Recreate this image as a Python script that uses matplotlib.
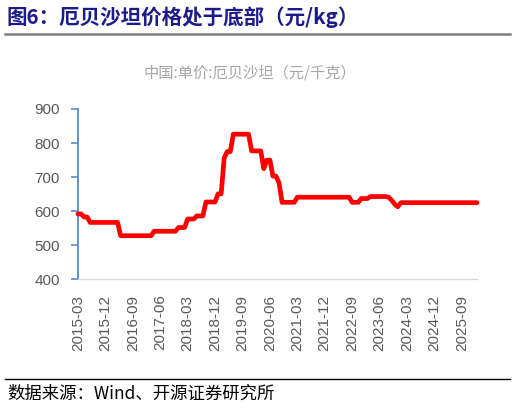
import numpy as np
import pandas as pd
import matplotlib
matplotlib.use("Agg")
import matplotlib.pyplot as plt
from matplotlib.lines import Line2D

plt.rcParams['font.family'] = ['Noto Sans CJK SC', 'DejaVu Sans']

# monthly unit price, 2015-03 .. 2026-02 (yuan/kg)
start_month = "2015-03"
prices = [
    592, 592, 583, 583, 567, 567, 567, 567, 567, 567,
    567, 567, 567, 567, 528, 528, 528, 528, 528, 528,
    528, 528, 528, 528, 528, 541, 541, 541, 541, 541,
    541, 541, 541, 552, 552, 552, 577, 577, 577, 586,
    586, 586, 627, 627, 627, 627, 651, 651, 756, 775,
    775, 826, 826, 826, 826, 826, 826, 777, 777, 777,
    777, 725, 750, 750, 703, 703, 683, 626, 626, 626,
    626, 626, 641, 641, 641, 641, 641, 641, 641, 641,
    641, 641, 641, 641, 641, 641, 641, 641, 641, 641,
    626, 626, 626, 637, 637, 637, 643, 643, 643, 643,
    643, 643, 641, 632, 620, 613, 625, 625, 625, 625,
    625, 625, 625, 625, 625, 625, 625, 625, 625, 625,
    625, 625, 625, 625, 625, 625, 625, 625, 625, 625,
    625, 625,
]
dates = pd.date_range(start_month, periods=len(prices), freq="MS").strftime("%Y-%m")
yticks = [400, 500, 600, 700, 800, 900]

title = "图6：厄贝沙坦价格处于底部（元/kg）"
subtitle = "中国:单价:厄贝沙坦（元/千克）"
source = "数据来源：Wind、开源证券研究所"

fig = plt.figure(figsize=(5.15, 4.08), dpi=100)
ax = fig.add_axes([78/515, 1-279.3/408, (477-78)/515, (279.3-109)/408])

x = np.arange(len(prices))
ax.plot(x, prices, color="#FF0000", linewidth=3.4, solid_joinstyle="round",
        solid_capstyle="round", zorder=3, clip_on=False)

ax.set_xlim(0, len(prices) - 1)
ax.set_ylim(400, 900)
ax.set_yticks(yticks)
ax.set_yticklabels([str(v) for v in yticks], family="Liberation Sans",
                   fontsize=11, color="#595959")
tick_idx = list(range(0, len(prices), 9))
ax.set_xticks(tick_idx)
ax.set_xticklabels([dates[i] for i in tick_idx], rotation=90, family="Liberation Sans",
                   fontsize=11, color="#595959")
ax.tick_params(axis="x", length=0, pad=11)
ax.tick_params(axis="y", length=5, width=1.2, color="#5B8BC9", direction="out", pad=8)

for s in ["top", "right"]:
    ax.spines[s].set_visible(False)
ax.spines["left"].set_color("#5B8BC9")
ax.spines["left"].set_linewidth(1.3)
ax.spines["bottom"].set_color("#D9D9D9")
ax.spines["bottom"].set_linewidth(1.0)

fig.text(7/515, 1-17/408, title, fontsize=14.8, fontweight="bold", color="#1B1B8A",
         va="center", ha="left")
fig.add_artist(Line2D([5/515, 510/515], [1-33.5/408, 1-33.5/408], color="#7F7F7F",
                      linewidth=1.8))
fig.text(250/515, 1-73/408, subtitle, fontsize=11, color="#A6A6A6",
         va="center", ha="center")
fig.add_artist(Line2D([5/515, 510/515], [1-378.5/408, 1-378.5/408], color="#000000",
                      linewidth=1.0))
fig.text(7/515, 1-394/408, source, fontsize=12.5, color="#000000",
         va="center", ha="left")

fig.savefig("out.png", dpi=100)
